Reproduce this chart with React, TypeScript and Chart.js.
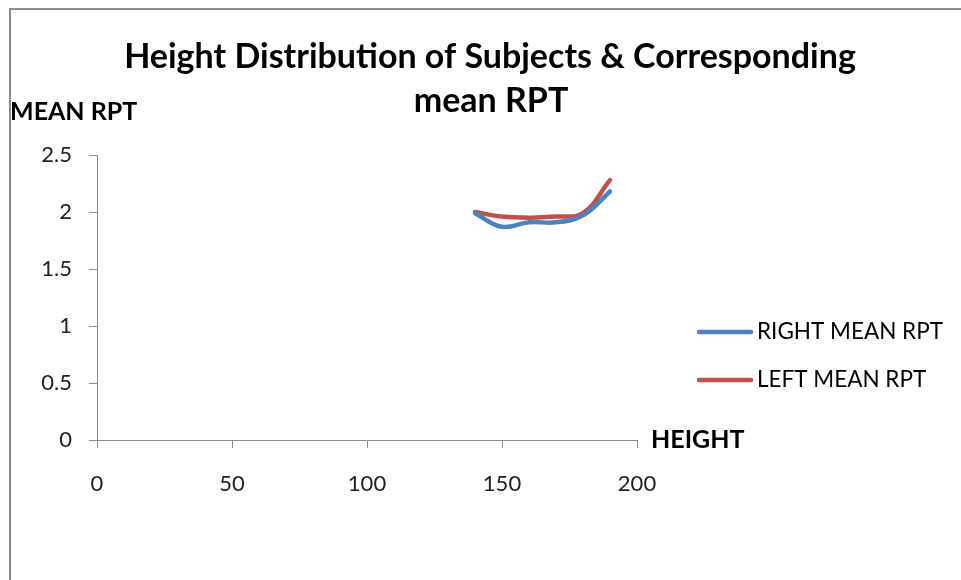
import React, { useEffect, useRef } from "react";
import { Chart, registerables } from "chart.js";

Chart.register(...registerables);

const heights = [140, 150, 160, 170, 180, 190];
const rightMeanRpt = [1.99, 1.87, 1.91, 1.91, 1.97, 2.18];
const leftMeanRpt = [2.0, 1.96, 1.95, 1.96, 1.99, 2.28];
const seriesNames = ["RIGHT MEAN RPT", "LEFT MEAN RPT"];
const seriesColors = ["#4F81BD", "#C0504D"];
const titleLines = ["Height Distribution of Subjects & Corresponding", "mean RPT"];
const yAxisTitle = "MEAN RPT";
const xAxisTitle = "HEIGHT";
const xTicks = [0, 50, 100, 150, 200];
const yTicks = [0, 0.5, 1, 1.5, 2, 2.5];

const FONT = "Lato, 'Open Sans', sans-serif";

const decorPlugin = {
  id: "decor",
  beforeDraw(chart: any) {
    const ctx = chart.ctx;
    ctx.save();
    ctx.fillStyle = "#ffffff";
    ctx.fillRect(0, 0, chart.width, chart.height);
    ctx.strokeStyle = "#8c8c8c";
    ctx.lineWidth = 2;
    ctx.beginPath();
    ctx.moveTo(10, chart.height);
    ctx.lineTo(10, 9);
    ctx.lineTo(chart.width, 9);
    ctx.stroke();
    ctx.restore();
  },
  afterDraw(chart: any) {
    const ctx = chart.ctx;
    const area = chart.chartArea;
    ctx.save();
    ctx.fillStyle = "#000000";
    ctx.textBaseline = "middle";
    // title
    ctx.textAlign = "center";
    ctx.font = `bold 34px ${FONT}`;
    ctx.fillText(titleLines[0], 490, 57);
    ctx.fillText(titleLines[1], 491, 101);
    // axis titles
    ctx.textAlign = "left";
    ctx.font = `bold 25px ${FONT}`;
    ctx.fillText(yAxisTitle, 10, 112);
    ctx.fillText(xAxisTitle, area.right + 14, area.bottom);
    // legend
    ctx.font = `22.5px ${FONT}`;
    chart.data.datasets.forEach((ds: any, i: number) => {
      const y = 332 + i * 48;
      ctx.strokeStyle = ds.borderColor;
      ctx.lineWidth = 4.5;
      ctx.lineCap = "round";
      ctx.beginPath();
      ctx.moveTo(699, y);
      ctx.lineTo(751, y);
      ctx.stroke();
      ctx.fillStyle = "#000000";
      ctx.fillText(ds.label, 757, y);
    });
    ctx.restore();
  },
};

export default function App() {
  const ref = useRef<HTMLCanvasElement | null>(null);
  useEffect(() => {
    if (!ref.current) return;
    const mk = (vals: number[]) => heights.map((h, i) => ({ x: h, y: vals[i] }));
    const chart = new Chart(ref.current, {
      type: "scatter",
      data: {
        datasets: [
          {
            label: seriesNames[0],
            data: mk(rightMeanRpt),
            borderColor: seriesColors[0],
            backgroundColor: seriesColors[0],
            showLine: true,
            borderWidth: 4.5,
            borderCapStyle: "round",
            tension: 0.4,
            pointRadius: 0,
          },
          {
            label: seriesNames[1],
            data: mk(leftMeanRpt),
            borderColor: seriesColors[1],
            backgroundColor: seriesColors[1],
            showLine: true,
            borderWidth: 4.5,
            borderCapStyle: "round",
            tension: 0.4,
            pointRadius: 0,
          },
        ],
      },
      options: {
        responsive: false,
        animation: false,
        layout: { padding: { left: 0, top: 155, right: 324, bottom: 80 } },
        plugins: { legend: { display: false }, title: { display: false }, tooltip: { enabled: false } },
        scales: {
          x: {
            type: "linear",
            min: 0,
            max: 200,
            afterBuildTicks: (s: any) => {
              s.ticks = xTicks.map((v) => ({ value: v }));
            },
            afterFit: (s: any) => {
              s.height = 60;
            },
            grid: { drawOnChartArea: false, drawTicks: true, tickLength: 8, color: "#8c8c8c" },
            border: { display: true, color: "#8c8c8c", width: 1 },
            ticks: {
              color: "#222",
              font: { family: FONT, size: 22 },
              padding: 23,
              maxRotation: 0,
              callback: (v: any) => String(v),
            },
          },
          y: {
            type: "linear",
            min: 0,
            max: 2.5,
            afterBuildTicks: (s: any) => {
              s.ticks = yTicks.map((v) => ({ value: v }));
            },
            afterFit: (s: any) => {
              s.width = 97;
            },
            grid: { drawOnChartArea: false, drawTicks: true, tickLength: 8, color: "#8c8c8c" },
            border: { display: true, color: "#8c8c8c", width: 1 },
            ticks: {
              color: "#222",
              font: { family: FONT, size: 22 },
              padding: 17,
              callback: (v: any) => String(v),
            },
          },
        },
      },
      plugins: [decorPlugin],
    });
    return () => chart.destroy();
  }, []);
  return (
    <div style={{ position: "absolute", left: 0, top: 0, width: 961, height: 580, background: "#fff" }}>
      <canvas ref={ref} width={961} height={580} style={{ display: "block" }} />
    </div>
  );
}
